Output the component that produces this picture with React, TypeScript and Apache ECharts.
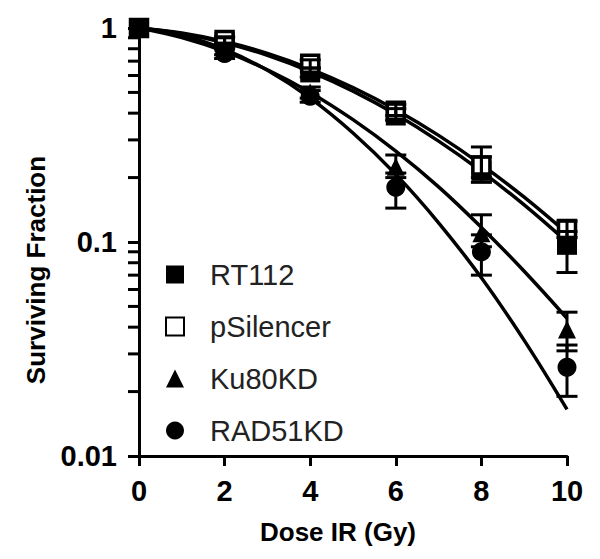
import React, { useEffect, useRef } from "react";
import * as echarts from "echarts";

// Doses (Gy) at which survival was measured
const doses = [0, 2, 4, 6, 8, 10];
// Measured surviving fractions (markers)
const rt112 = [1, 0.86, 0.62, 0.39, 0.215, 0.097];
const pSilencer = [1, 0.88, 0.68, 0.41, 0.228, 0.115];
const ku80kd = [1, 0.78, 0.5, 0.225, 0.11, 0.039];
const rad51kd = [1, 0.76, 0.48, 0.18, 0.09, 0.026];
// Error bars [low, high]
const rt112Err = [[1, 1], [0.83, 0.9], [0.59, 0.65], [0.37, 0.42], [0.19, 0.25], [0.072, 0.112]];
const pSilencerErr = [[1, 1], [0.85, 0.91], [0.65, 0.71], [0.39, 0.44], [0.2, 0.278], [0.105, 0.125]];
const ku80kdErr = [[1, 1], [0.75, 0.81], [0.47, 0.53], [0.2, 0.255], [0.095, 0.134], [0.031, 0.047]];
const rad51kdErr = [[1, 1], [0.72, 0.8], [0.45, 0.51], [0.144, 0.21], [0.07, 0.108], [0.019, 0.033]];
// Fitted curves read at each integer dose
const fitDoses = [0, 1, 2, 3, 4, 5, 6, 7, 8, 9, 10];
const rt112Fit = [1, 0.94, 0.853, 0.745, 0.626, 0.507, 0.395, 0.296, 0.214, 0.149, 0.1];
const pSilencerFit = [1, 0.948, 0.865, 0.761, 0.645, 0.527, 0.415, 0.315, 0.23, 0.162, 0.11];
const ku80kdFit = [1, 0.902, 0.777, 0.638, 0.5, 0.373, 0.266, 0.181, 0.117, 0.073, 0.044];
const rad51kdFit = [1, 0.925, 0.794, 0.634, 0.47, 0.323, 0.207, 0.123, 0.068, 0.0347, 0.0165];
// Minor tick values on the log axis
const minorTickValues = [
  0.02, 0.03, 0.04, 0.05, 0.06, 0.07, 0.08, 0.09,
  0.2, 0.3, 0.4, 0.5, 0.6, 0.7, 0.8, 0.9,
];
const seriesNames = ["RT112", "pSilencer", "Ku80KD", "RAD51KD"];

const FONT = "'Liberation Sans', Arial, Helvetica, sans-serif";

export default function App() {
  const ref = useRef<HTMLDivElement>(null);

  useEffect(() => {
    document.body.style.margin = "0";
    if (!ref.current) return;
    const chart = echarts.init(ref.current, undefined, { renderer: "svg" });

    const pts = (ys: number[]) => doses.map((d, i) => [d, ys[i]]);
    const fit = (ys: number[]) => fitDoses.map((d, i) => [d, ys[i]]);
    const errs = (e: number[][]) =>
      doses.map((d, i) => [d, e[i][0], e[i][1]]).filter((r) => r[0] > 0);

    const errorRender = (params: any, api: any) => {
      const x = api.value(0);
      const lo = api.coord([x, api.value(1)]);
      const hi = api.coord([x, api.value(2)]);
      const w = 10.5;
      const st = { stroke: "#000", lineWidth: 3 };
      return {
        type: "group",
        children: [
          { type: "line", shape: { x1: lo[0], y1: lo[1], x2: hi[0], y2: hi[1] }, style: st },
          { type: "line", shape: { x1: lo[0] - w, y1: lo[1], x2: lo[0] + w, y2: lo[1] }, style: st },
          { type: "line", shape: { x1: hi[0] - w, y1: hi[1], x2: hi[0] + w, y2: hi[1] }, style: st },
        ],
      };
    };

    const lineSeries = (ys: number[]) => ({
      type: "line",
      data: fit(ys),
      smooth: 0.4,
      showSymbol: false,
      symbol: "none",
      lineStyle: { color: "#000", width: 3.5 },
      z: 2,
      silent: true,
    });

    const errSeries = (e: number[][]) => ({
      type: "custom",
      data: errs(e),
      encode: { x: 0, y: [1, 2] },
      renderItem: errorRender,
      clip: false,
      z: 4,
      silent: true,
    });

    const option: any = {
      animation: false,
      backgroundColor: "#fff",
      grid: { left: 139, right: 33, top: 28, bottom: 103, containLabel: false },
      legend: {
        orient: "vertical",
        left: 160,
        top: 255,
        itemWidth: 18,
        itemHeight: 18,
        itemGap: 23,
        data: seriesNames,
        textStyle: {
          fontFamily: FONT,
          fontSize: 29,
          color: "#222",
          padding: [0, 0, 0, 21],
        },
      },
      xAxis: {
        type: "value",
        min: 0,
        max: 10,
        interval: 2,
        axisLine: { show: true, lineStyle: { color: "#000", width: 3 } },
        axisTick: { show: true, length: 10, lineStyle: { color: "#000", width: 3 } },
        axisLabel: {
          margin: 20,
          fontFamily: FONT,
          fontSize: 29,
          fontWeight: "bold",
          color: "#000",
        },
        splitLine: { show: false },
      },
      yAxis: {
        type: "log",
        logBase: 10,
        min: 0.01,
        max: 1,
        axisLine: { show: true, lineStyle: { color: "#000", width: 3 } },
        axisTick: { show: true, length: 11, lineStyle: { color: "#000", width: 3 } },
        axisLabel: {
          margin: 22,
          fontFamily: FONT,
          fontSize: 29,
          fontWeight: "bold",
          color: "#000",
          formatter: (v: number) => String(+v.toPrecision(3)),
        },
        splitLine: { show: false },
      },
      graphic: [
        {
          type: "text",
          x: 338,
          y: 532,
          style: {
            text: "Dose IR (Gy)",
            fontFamily: FONT,
            fontSize: 26,
            fontWeight: "bold",
            fill: "#000",
            align: "center",
            verticalAlign: "middle",
          },
        },
        {
          type: "text",
          x: 36,
          y: 270,
          rotation: Math.PI / 2,
          style: {
            text: "Surviving Fraction",
            fontFamily: FONT,
            fontSize: 26,
            fontWeight: "bold",
            fill: "#000",
            align: "center",
            verticalAlign: "middle",
          },
        },
      ],
      series: [
        lineSeries(rt112Fit),
        lineSeries(pSilencerFit),
        lineSeries(ku80kdFit),
        lineSeries(rad51kdFit),
        {
          name: "RT112",
          type: "scatter",
          data: pts(rt112),
          symbol: "rect",
          symbolSize: 20,
          itemStyle: { color: "#000", opacity: 1 },
          z: 3,
        },
        {
          name: "pSilencer",
          type: "scatter",
          data: pts(pSilencer),
          symbol: "rect",
          symbolSize: 17,
          itemStyle: { color: "#fff", borderColor: "#000", borderWidth: 3.5, opacity: 1 },
          z: 3,
        },
        {
          name: "Ku80KD",
          type: "scatter",
          data: pts(ku80kd),
          symbol: "triangle",
          symbolSize: 18,
          itemStyle: { color: "#000", opacity: 1 },
          z: 3,
        },
        {
          name: "RAD51KD",
          type: "scatter",
          data: pts(rad51kd),
          symbol: "circle",
          symbolSize: 19,
          itemStyle: { color: "#000", opacity: 1 },
          z: 3,
        },
        errSeries(rt112Err),
        errSeries(pSilencerErr),
        errSeries(ku80kdErr),
        errSeries(rad51kdErr),
      ],
    };

    chart.setOption(option);

    // Minor ticks on the log y axis, positioned through the axis scale
    const tickEls = minorTickValues.map((v) => {
      const p = chart.convertToPixel({ xAxisIndex: 0, yAxisIndex: 0 } as any, [0, v]) as any;
      return {
        type: "rect",
        shape: { x: p[0] - 11, y: p[1] - 1.5, width: 11, height: 3 },
        style: { fill: "#000" },
        z: 50,
        silent: true,
      };
    });
    chart.setOption({ graphic: [...option.graphic, ...tickEls] });

    return () => chart.dispose();
  }, []);

  return <div ref={ref} style={{ width: 600, height: 559 }} />;
}
